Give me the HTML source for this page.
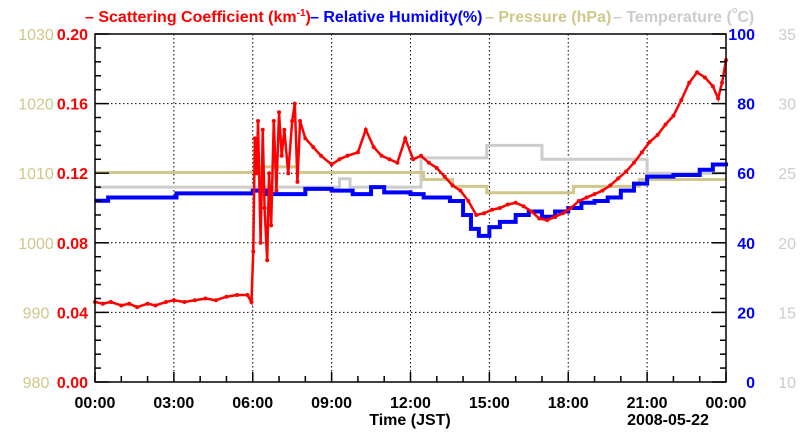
<!DOCTYPE html>
<html><head><meta charset="utf-8"><style>
html,body{margin:0;padding:0;background:#fff;width:800px;height:434px;overflow:hidden}
svg{display:block;font-family:"Liberation Sans",sans-serif;font-weight:bold}
</style></head><body>
<svg id="chart" width="800" height="434" viewBox="0 0 800 434" xmlns="http://www.w3.org/2000/svg">
<g id="legend" font-size="16">
<text x="85" y="22" fill="#f00">– Scattering Coefficient (km<tspan font-size="10" dy="-6">-1</tspan><tspan dy="6">)</tspan></text>
<text x="310" y="22" fill="#00f">– Relative Humidity(%)</text>
<text x="485" y="22" fill="#cfc88a">– Pressure (hPa)</text>
<text x="613" y="22" fill="#ccc">– Temperature (<tspan font-size="9" dy="-9">o</tspan><tspan dy="9">C)</tspan></text>
</g>
<g id="grid"></g><g id="series"></g><g id="axes"></g>
</svg>
<script>
// ---- data ----
const xTickLabels = ["00:00","03:00","06:00","09:00","12:00","15:00","18:00","21:00","00:00"];
const scatTicks = ["0.00","0.04","0.08","0.12","0.16","0.20"];
const presTicks = ["980","990","1000","1010","1020","1030"];
const rhTicks = ["0","20","40","60","80","100"];
const tempTicks = ["10","15","20","25","30","35"];
// scattering coefficient (hour, km^-1)
const scatHours = [0,0.3,0.6,1,1.3,1.6,2,2.3,2.7,3,3.4,3.8,4.2,4.6,5,5.4,5.8,5.95,6.02,6.08,6.15,6.2,6.3,6.38,6.45,6.55,6.62,6.7,6.8,6.9,7,7.1,7.2,7.35,7.5,7.6,7.7,7.8,8,8.3,8.6,9,9.3,9.6,10,10.3,10.6,10.9,11.2,11.5,11.8,12.1,12.4,12.7,13,13.3,13.6,13.9,14.2,14.5,14.8,15.1,15.4,15.7,16,16.3,16.6,16.9,17.2,17.5,17.8,18.1,18.4,18.7,19,19.3,19.6,19.9,20.2,20.5,20.8,21.1,21.4,21.7,22,22.3,22.6,22.9,23.2,23.5,23.7,23.85,24];
const scatValues = [0.046,0.045,0.046,0.044,0.045,0.043,0.045,0.044,0.046,0.047,0.046,0.047,0.048,0.047,0.049,0.050,0.050,0.046,0.075,0.140,0.120,0.150,0.080,0.145,0.100,0.070,0.120,0.090,0.150,0.110,0.155,0.130,0.145,0.120,0.150,0.160,0.115,0.150,0.140,0.135,0.130,0.125,0.128,0.130,0.132,0.145,0.135,0.130,0.128,0.126,0.140,0.128,0.130,0.126,0.123,0.118,0.113,0.110,0.104,0.096,0.097,0.099,0.100,0.102,0.103,0.101,0.098,0.094,0.093,0.095,0.097,0.100,0.104,0.106,0.108,0.110,0.113,0.117,0.121,0.126,0.132,0.138,0.142,0.148,0.153,0.162,0.172,0.178,0.175,0.170,0.163,0.172,0.185];
// relative humidity step series (hour, %)
const rhHours = [0,0.5,3.1,6,6.5,8,9,9.8,10.5,11,12,12.5,13.5,14,14.3,14.6,15,15.4,16,16.5,17,17.5,18,18.5,19,19.5,20,20.5,21,22,23,23.5,24];
const rhValues = [52.1,53,54.2,55,54,55.5,55,54,56,54.5,54,53,52,48,44,42,44.5,46,48,49,47.5,49,50,51.5,52,53,55,57,59,59.5,61,62.5,62];
// pressure step series (hour, hPa)
const presHours = [0,6.3,7.7,12.5,13.6,14.9,18.2,20.7,24];
const presValues = [1010.1,1010.9,1010.1,1009.1,1008.1,1007.2,1008.1,1009.1,1009.1];
// temperature step series (hour, C)
const tempHours = [0,9.3,9.7,12.4,14.9,17,21,24];
const tempValues = [24.0,24.6,24.0,26.1,27.0,26.0,25.0,25.0];

// ---- layout ----
const L=95,R=726,T=34,B=382;
const NS="http://www.w3.org/2000/svg";
const xS=h=>L+h/24*(R-L);
const yScat=v=>B-v/0.2*(B-T);
const yRH=v=>B-v/100*(B-T);
const yPres=v=>B-(v-980)/50*(B-T);
const yTemp=v=>B-(v-10)/25*(B-T);
function mk(tag,attrs,parent,text){const e=document.createElementNS(NS,tag);for(const k in attrs)e.setAttribute(k,attrs[k]);if(text!==undefined)e.textContent=text;parent.appendChild(e);return e;}
const grid=document.getElementById('grid'),series=document.getElementById('series'),axes=document.getElementById('axes');
for(let i=1;i<8;i++){const x=xS(i*3);const g=mk('line',{x1:x,y1:T,x2:x,y2:B,stroke:'#000','stroke-width':1,'stroke-dasharray':'1.5,2.5'},grid);

}
for(let i=1;i<5;i++){const y=yScat(i*0.04);const g=mk('line',{x1:L,y1:y,x2:R,y2:y,stroke:'#000','stroke-width':1,'stroke-dasharray':'1.5,2.5'},grid);

}
function stepPath(hs,vs,ys){let d='M'+xS(hs[0])+','+ys(vs[0]);for(let i=1;i<hs.length;i++){d+=' H'+xS(hs[i])+' V'+ys(vs[i]);}return d;}
const tp=mk('path',{d:stepPath(tempHours,tempValues,yTemp),fill:'none',stroke:'#cccccc','stroke-width':3},series);


const pp=mk('path',{d:stepPath(presHours,presValues,yPres),fill:'none',stroke:'#cfc88a','stroke-width':3},series);


const rp=mk('path',{d:stepPath(rhHours,rhValues,yRH),fill:'none',stroke:'#0000ff','stroke-width':4},series);


const sp=mk('polyline',{points:scatHours.map((h,i)=>xS(h)+','+yScat(scatValues[i])).join(' '),fill:'none',stroke:'#ff0000','stroke-width':2.5},series);


scatHours.forEach((h,i)=>{const c=mk('circle',{cx:xS(h),cy:yScat(scatValues[i]),r:2,fill:'#f00'},series);

});
const fr=mk('rect',{x:L,y:T,width:R-L,height:B-T,fill:'none',stroke:'#000','stroke-width':1.5},axes);


for(let h=0;h<=24;h++){const x=xS(h);const len=h%3===0?10:6;mk('line',{x1:x,y1:B,x2:x,y2:B-len,stroke:'#000','stroke-width':1.5},axes);}
for(let i=0;i<=25;i++){const y=B-i*(B-T)/25;const len=i%5===0?14:6;mk('line',{x1:L,y1:y,x2:L+len,y2:y,stroke:'#000','stroke-width':1.5},axes);mk('line',{x1:R,y1:y,x2:R-len,y2:y,stroke:'#000','stroke-width':1.5},axes);}
xTickLabels.forEach((t,i)=>{const e=mk('text',{x:xS(i*3),y:408,'text-anchor':'middle','font-size':16,fill:'#000'},axes,t);

});
scatTicks.forEach((t,i)=>{const y=B-i*(B-T)/5+6;
const a=mk('text',{x:88,y:y,'text-anchor':'end','font-size':16,fill:'#f00'},axes,t);


const b=mk('text',{x:36,y:y,'text-anchor':'middle','font-size':16,fill:'#cfc88a','font-weight':'normal'},axes,presTicks[i]);


const c=mk('text',{x:755,y:y,'text-anchor':'end','font-size':16,fill:'#00f'},axes,rhTicks[i]);


const d=mk('text',{x:796,y:y,'text-anchor':'end','font-size':16,fill:'#ccc','font-weight':'normal'},axes,tempTicks[i]);

});
const xt=mk('text',{x:410,y:425,'text-anchor':'middle','font-size':16,fill:'#000'},axes,'Time (JST)');


const dt=mk('text',{x:668,y:425,'text-anchor':'middle','font-size':16,fill:'#000'},axes,'2008-05-22');


</script>
</body></html>
